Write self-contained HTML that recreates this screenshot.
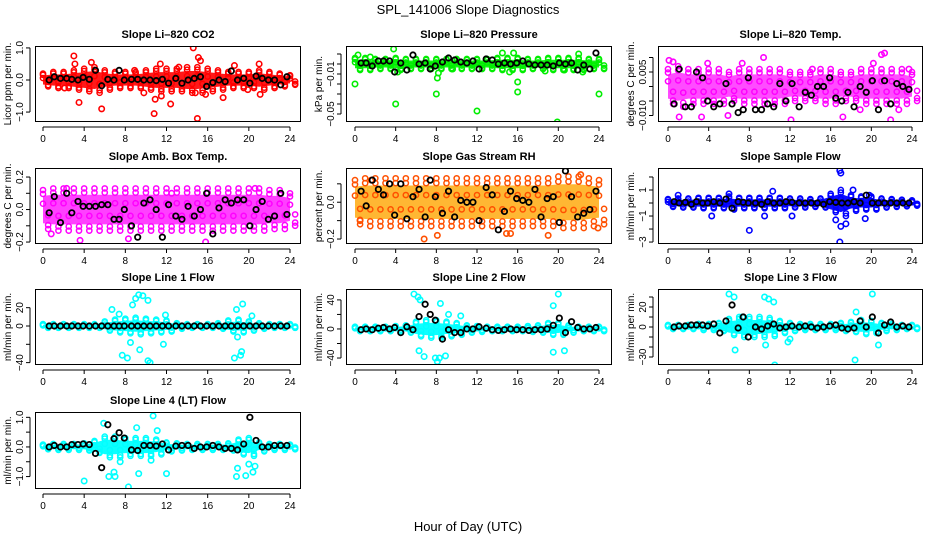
<!DOCTYPE html>
<html><head><meta charset="utf-8">
<style>
html,body{margin:0;padding:0;background:#fff;}
svg{display:block;font-family:"Liberation Sans",sans-serif;}
</style></head>
<body>
<svg id="chart" width="936" height="540" viewBox="0 0 936 540">
<text x="468" y="14" text-anchor="middle" font-size="13">SPL_141006  Slope Diagnostics</text>
<text x="468" y="531" text-anchor="middle" font-size="13">Hour of Day (UTC)</text>
</svg>
<script>
// shared hours for black (hourly mean) points
const blackHours = [0.6,1.1,1.7,2.3,2.8,3.4,3.9,4.5,5.1,5.7,6.3,6.9,7.4,7.9,8.6,9.2,9.8,10.4,11.0,11.6,12.2,12.9,13.5,14.1,14.7,15.3,15.9,16.5,17.1,17.7,18.3,18.9,19.5,20.1,20.7,21.3,21.9,22.5,23.1,23.7];
const bandHours = [0,1,2,3,4,5,6,7,8,9,10,11,12,13,14,15,16,17,18,19,20,21,22,23,24];
const xTicks = [0,4,8,12,16,20,24];

// Panel 1: CO2
const co2Band = [0.2,0.25,0.25,0.3,0.35,0.4,0.3,0.25,0.25,0.25,0.3,0.35,0.35,0.35,0.4,0.4,0.35,0.3,0.25,0.25,0.25,0.3,0.25,0.2,0.15];
const co2OutX = [3,3.1,3.5,5.7,4.7,10.8,10.9,11.4,11.5,12.4,14.6,14.8,15.1,15.3,15,17.5,18.6,21,21.1,8.9,9.8,13.2,15.8,2.1,19.9];
const co2OutY = [0.75,0.5,-0.7,-0.9,0.55,-1.05,-0.6,0.5,-0.5,-0.75,1.0,-0.4,0.7,0.6,-1.2,-0.55,0.45,0.5,-0.45,0.3,-0.4,0.4,-0.45,-0.25,-0.3];
const co2Black = [0.0,0.1,0.05,0.05,0.02,0.0,0.08,0.02,0.3,-0.18,0.02,0.0,0.3,0.0,0.02,0.02,0.0,0.0,-0.02,0.02,-0.1,0.05,-0.1,0.0,0.05,0.1,-0.2,-0.08,0.0,-0.05,0.28,0.0,0.05,-0.1,0.12,0.05,0.0,0.0,-0.15,0.1];
// Panel 2: pressure
const prBand = [0.006,0.006,0.005,0.005,0.006,0.005,0.005,0.005,0.005,0.005,0.005,0.005,0.005,0.005,0.006,0.006,0.006,0.005,0.005,0.006,0.006,0.006,0.006,0.005,0.005];
const prOutX = [0,0.3,4,4.2,8,8.1,8.2,12,14.5,15.6,16,16,15.2,19.9,22,22.4,24,3.8,20.6,18.7,1.5,9.6];
const prOutY = [-0.02,0.009,-0.04,-0.008,-0.03,-0.014,-0.009,-0.047,0.011,0.011,-0.028,-0.018,-0.008,-0.058,0.01,-0.008,-0.03,0.015,-0.006,-0.007,0.007,-0.005];
const prBlack = [0.001,0.001,-0.002,0.003,0.003,0.003,-0.008,0.001,-0.006,0.009,0.0,0.001,-0.005,-0.002,0.002,0.006,0.004,0.002,0.001,0.003,-0.005,0.005,0.004,0.0,0.001,0.0,0.001,0.003,0.0,-0.001,-0.001,-0.001,-0.002,0.001,0.0,0.001,-0.006,-0.001,-0.005,0.011];
// Panel 3: Li-820 temp
const ltBand = [0.006,0.007,0.006,0.006,0.006,0.006,0.005,0.006,0.006,0.006,0.006,0.006,0.005,0.005,0.005,0.006,0.006,0.005,0.005,0.006,0.006,0.006,0.006,0.006,0.005];
const ltOutX = [0.5,1.1,3.3,9.4,5.9,12.1,17.2,21,21.3,21.9,22.7,18.9,20.2,23.7,3.9,7.3,0.1,14.2];
const ltOutY = [0.0085,-0.0105,-0.0105,0.01,-0.01,-0.0115,-0.0105,0.011,0.0115,-0.0115,-0.008,-0.008,0.008,0.006,0.008,0.008,0.009,0.006];
const ltBlack = [-0.006,0.006,-0.007,-0.007,0.005,0.003,-0.005,-0.007,-0.006,0.001,-0.006,-0.009,-0.008,0.003,-0.008,-0.008,-0.006,-0.007,0.001,-0.005,0.001,-0.007,-0.002,-0.003,0.0,0.0,0.003,-0.004,-0.005,-0.002,-0.007,0.0,-0.002,0.002,-0.008,0.002,-0.006,0.001,0.0,-0.001];
// Panel 4: amb box temp
const abBand = [0.12,0.13,0.13,0.13,0.13,0.13,0.13,0.13,0.13,0.13,0.13,0.13,0.13,0.13,0.13,0.13,0.13,0.13,0.13,0.13,0.13,0.13,0.12,0.12,0.1];
const abOutX = [7,15.8,8.3,3.6,0.8,20.6,2.3,12.5];
const abOutY = [0.27,-0.2,-0.18,-0.19,-0.15,0.13,0.13,0.1];
const abBlack = [-0.02,0.08,-0.08,0.1,-0.02,0.05,0.02,0.02,0.02,0.03,0.03,-0.06,-0.06,0.0,-0.1,-0.17,0.04,0.06,0.0,-0.17,0.03,-0.04,-0.06,0.02,-0.04,0.0,0.1,-0.15,0.01,0.06,0.04,0.06,0.06,-0.1,0.0,0.05,-0.06,-0.04,0.1,-0.03];
// Panel 5: gas stream RH
const rhBand = [0.12,0.13,0.13,0.13,0.13,0.13,0.13,0.13,0.13,0.13,0.13,0.13,0.13,0.13,0.13,0.13,0.13,0.13,0.13,0.13,0.14,0.14,0.14,0.13,0.12];
const rhOutX = [5.1,6.8,8.1,19,21.8,0.5,23.9,14.9,15.3,1.6,22.2];
const rhOutY = [-0.24,-0.2,-0.18,-0.18,0.2,-0.1,-0.14,-0.17,-0.17,0.12,0.15];
const rhBlack = [0.06,-0.02,0.12,0.07,0.04,0.1,-0.07,0.1,-0.09,0.03,0.07,-0.08,0.12,0.03,-0.06,0.06,-0.08,0.01,0.0,0.0,-0.1,0.08,0.04,-0.15,-0.05,0.06,0.02,0.01,0.0,0.07,-0.08,0.02,0.03,-0.11,0.17,0.03,-0.08,-0.06,-0.04,0.06];
// Panel 6: sample flow
const sfBand = [0.3,0.35,0.35,0.4,0.4,0.4,0.5,0.4,0.4,0.4,0.4,0.4,0.35,0.35,0.3,0.35,0.7,1.0,0.6,0.5,0.5,0.35,0.3,0.25,0.2];
const sfOutX = [16.9,17,16.9,17,8,10.3,16.5,19.4,19.8,4.3,9.5,12.2,6,1,17.5,18.2];
const sfOutY = [2.5,2.3,-3,-1.8,-2.1,0.9,-1.3,-1.2,0.6,-1,-1,-1,0.7,0.6,-1.6,1.0];
const sfBlack = [0.1,0.0,0.05,-0.1,0.1,0.0,0.0,0.1,0.0,0.3,-0.4,0.1,0.05,0.0,0.0,-0.1,0.1,0.0,0.0,0.1,0.05,0.0,0.0,0.0,0.0,-0.1,0.1,0.05,0.0,0.0,0.1,0.0,0.6,0.0,0.0,0.0,0.0,0.0,0.0,0.0];
// Panel 7: line 1 flow
const l1Band = [2,2,2,2,2,2,5,7,8,9,8,7,6,3,2,2,2,3,6,7,5,3,2,2,2];
const l1OutX = [8.7,9,9.3,9.7,10.2,7.4,6.7,8.2,7.7,10.4,10.2,9.4,8.5,11.7,19.2,19.3,19.4,18.8,18.6,18.9,20.3,11.9];
const l1OutY = [23,30,34,33,28,13,18,-35,-32,-40,-38,-26,-18,-20,-32,-28,24,18,-35,-12,11,12];
const l1Black = [0,0,0,0,0,0,0,0,0,0,0,0,0,0,0,0,0,0,0,0,0,0,0,0,0,0,0,0,0,0,0,0,0,0,0,0,0,0,0,0];
// Panel 8: line 2 flow
const l2Band = [3,3,3,3,4,5,10,12,12,10,8,5,4,3,3,3,3,4,5,8,8,5,3,3,3];
const l2OutX = [5.8,6.2,6.4,8.4,6.3,6.8,7.9,8.1,8.3,8.9,19.5,20,19.5,20.6,9.2,10.4];
const l2OutY = [48,44,40,35,-30,-38,-40,-45,-40,-37,32,48,-32,-30,20,18];
const l2Black = [-1,0,-1,1,2,0,2,-5,3,-1,17,34,20,12,-14,-1,-5,-5,0,0,3,1,-1,-2,-1,0,-1,-1,-2,-1,-1,0,5,15,-5,10,2,0,0,2];
// Panel 9: line 3 flow
const l3Band = [2,2,2,3,3,4,8,10,10,10,9,6,4,3,3,3,3,4,5,7,6,4,3,2,2];
const l3OutX = [6,6.5,9.5,9.9,10.4,10.5,6.6,9.6,11.8,12,18.4,20.1,20.7,18.5,7.3];
const l3OutY = [33,30,30,28,25,-38,-23,-18,-15,-12,-33,33,-18,15,10];
const l3Black = [0,1,1,2,2,2,1,3,-6,6,22,-1,10,-10,0,-2,1,3,-1,0,1,0,1,0,-1,0,1,2,-1,-2,-1,6,0,10,-6,2,5,0,1,0];
// Panel 10: line 4 flow
const l4Band = [0.08,0.1,0.1,0.1,0.12,0.2,0.35,0.35,0.3,0.3,0.3,0.25,0.15,0.12,0.1,0.1,0.1,0.1,0.12,0.25,0.3,0.15,0.1,0.1,0.08];
const l4OutX = [10.7,5.9,9.1,11.1,4,8.3,6.4,6.9,7,9.3,12,18.8,18.9,19.7,20,20.4,20.6,10.5,7.5];
const l4OutY = [1.05,0.8,0.65,0.55,-1.15,-1.35,-1,-0.85,-1,-0.9,-0.9,-1,-0.72,-0.97,-0.58,-0.85,-0.65,-0.45,-0.5];
const l4Black = [0.0,0.05,0.0,0.0,0.08,0.08,0.1,0.08,-0.22,-0.7,0.75,0.28,0.48,0.3,-0.1,-0.12,0.05,0.05,0.03,0.1,-0.1,0.03,0.05,0.05,-0.05,0.0,0.0,0.05,0.0,-0.05,-0.05,-0.1,0.1,1.0,0.22,0.0,0.0,0.05,0.05,0.05];

const NS = "http://www.w3.org/2000/svg";
const svg = document.getElementById('chart');
function mk(tag, attrs, parent){ const e=document.createElementNS(NS,tag); for(const k in attrs) e.setAttribute(k,attrs[k]); (parent||svg).appendChild(e); return e; }

const cols = [{l:35,r:301,x0:43,x24:290},{l:346,r:612,x0:355,x24:599},{l:658,r:923,x0:668,x24:912}];
const rows = [{t:46,b:122},{t:168,b:244},{t:289,b:365},{t:412,b:489}];

const panels = [
 {name:'co2',title:'Slope Li-820 CO2',ylab:'Licor ppm per min.',c:0,r:0,ymax:1.06,ymin:-1.31,yt:[1.0,0.0,-1.0],yl:['1.0','0.0','-1.0'],col:'#ff0000',mid:0,band:co2Band,ox:co2OutX,oy:co2OutY,bk:co2Black,op:0.9},
 {name:'pressure',title:'Slope Li-820 Pressure',ylab:'kPa per min.',c:1,r:0,ymax:0.018,ymin:-0.058,yt:[0.01,0.0,-0.01,-0.02,-0.03,-0.04,-0.05],yl:['','','-0.01','','','','-0.05'],col:'#00ee00',mid:0,band:prBand,ox:prOutX,oy:prOutY,bk:prBlack,op:0.9},
 {name:'li-temp',title:'Slope Li-820 Temp.',ylab:'degrees C per min.',c:2,r:0,ymax:0.01397,ymin:-0.01224,yt:[0.01,0.005,0.0,-0.005,-0.01],yl:['','0.005','','','-0.010'],col:'#ff00ff',mid:0,band:ltBand,ox:ltOutX,oy:ltOutY,bk:ltBlack,op:0.7},
 {name:'amb-box-temp',title:'Slope Amb. Box Temp.',ylab:'degrees C per min.',c:0,r:1,ymax:0.2556,ymin:-0.212,yt:[0.2,0.1,0.0,-0.1,-0.2],yl:['0.2','','0.0','','-0.2'],col:'#ff00ff',mid:0,band:abBand,ox:abOutX,oy:abOutY,bk:abBlack,op:0.75},
 {name:'gas-rh',title:'Slope Gas Stream RH',ylab:'percent per min.',c:1,r:1,ymax:0.186,ymin:-0.227,yt:[0.1,0.0,-0.1,-0.2],yl:['','0.0','','-0.2'],col:'#ffa500',mid:0,band:rhBand,ox:rhOutX,oy:rhOutY,bk:rhBlack,edge:'#ff5000',op:0.8},
 {name:'sample-flow',title:'Slope Sample Flow',ylab:'ml/min per min.',c:2,r:1,ymax:2.69,ymin:-3.15,yt:[2,1,0,-1,-2,-3],yl:['','1','','-1','','-3'],col:'#0000ff',mid:0,band:sfBand,ox:sfOutX,oy:sfOutY,bk:sfBlack,op:0.95},
 {name:'line1-flow',title:'Slope Line 1 Flow',ylab:'ml/min per min.',c:0,r:2,ymax:40.4,ymin:-42.6,yt:[20,0,-20,-40],yl:['20','0','','-40'],col:'#00ffff',mid:0,band:l1Band,ox:l1OutX,oy:l1OutY,bk:l1Black,op:0.95},
 {name:'line2-flow',title:'Slope Line 2 Flow',ylab:'ml/min per min.',c:1,r:2,ymax:55,ymin:-49.6,yt:[40,20,0,-20,-40],yl:['40','','0','','-40'],col:'#00ffff',mid:0,band:l2Band,ox:l2OutX,oy:l2OutY,bk:l2Black,op:0.95},
 {name:'line3-flow',title:'Slope Line 3 Flow',ylab:'ml/min per min.',c:2,r:2,ymax:38,ymin:-38,yt:[30,20,10,0,-10,-20,-30],yl:['','20','','0','','','-30'],col:'#00ffff',mid:0,band:l3Band,ox:l3OutX,oy:l3OutY,bk:l3Black,op:0.95},
 {name:'line4-flow',title:'Slope Line 4 (LT) Flow',ylab:'ml/min per min.',c:0,r:3,ymax:1.18,ymin:-1.42,yt:[1.0,0.5,0.0,-0.5,-1.0],yl:['1.0','','0.0','','-1.0'],col:'#00ffff',mid:0,band:l4Band,ox:l4OutX,oy:l4OutY,bk:l4Black,op:0.95}
];

panels.forEach(p=>{
  const C=cols[p.c], R=rows[p.r];
  const g=mk('g',{});
  
  
  const xs=h=>C.x0+(h/24)*(C.x24-C.x0);
  const ys=v=>R.t+(p.ymax-v)/(p.ymax-p.ymin)*(R.b-R.t);
  const clip='clip-'+p.name;
  const cp=mk('clipPath',{id:clip},g); mk('rect',{x:C.l,y:R.t,width:C.r-C.l,height:R.b-R.t},cp);
  const pg=mk('g',{'clip-path':'url(#'+clip+')'},g);
  let top=[],bot=[];
  bandHours.forEach((h,i)=>{top.push(xs(h)+','+ys(p.mid+0.7*p.band[i])); bot.unshift(xs(h)+','+ys(p.mid-0.7*p.band[i]));});
  const band=mk('polygon',{points:top.concat(bot).join(' '),fill:p.col,'fill-opacity':p.op,stroke:'none'},pg);
  
  
  bandHours.forEach((h,i)=>{
    [1,-1,0.8,-0.8,0.3,-0.3].forEach(f=>{
      const c=mk('circle',{cx:xs(h+(f>0?0:0.5)),cy:ys(p.mid+f*p.band[i]),r:2.6,fill:'none',stroke:p.edge||p.col,'stroke-width':1.5},pg);
      
      
    });
  });
  p.ox.forEach((h,i)=>{
    const c=mk('circle',{cx:xs(h),cy:ys(p.oy[i]),r:2.7,fill:'none',stroke:p.edge||p.col,'stroke-width':1.6},pg);
    
    
  });
  blackHours.forEach((h,i)=>{
    const c=mk('circle',{cx:xs(h),cy:ys(p.bk[i]),r:2.7,fill:'none',stroke:'#000','stroke-width':1.8},pg);
    
    
  });
  mk('rect',{x:C.l+0.5,y:R.t+0.5,width:C.r-C.l-1,height:R.b-R.t-1,fill:'none',stroke:'#000','stroke-width':1},g);
  const xa=mk('g',{},g);
  
  
  const ay=R.b+5;
  mk('line',{x1:xs(0),x2:xs(24),y1:ay,y2:ay,stroke:'#000'},xa);
  xTicks.forEach(t=>{
    mk('line',{x1:xs(t),x2:xs(t),y1:ay,y2:ay+4,stroke:'#000'},xa);
    const tx=mk('text',{x:xs(t),y:ay+15,'text-anchor':'middle','font-size':10},xa); tx.textContent=t;
  });
  const ya=mk('g',{},g);
  
  
  const axX=C.l-5;
  mk('line',{x1:axX,x2:axX,y1:ys(p.yt[0]),y2:ys(p.yt[p.yt.length-1]),stroke:'#000'},ya);
  p.yt.forEach((t,i)=>{
    mk('line',{x1:axX-4,x2:axX,y1:ys(t),y2:ys(t),stroke:'#000'},ya);
    if(p.yl[i]){const tx=mk('text',{x:axX-7,y:ys(t),'text-anchor':'middle','font-size':10,transform:`rotate(-90 ${axX-7} ${ys(t)})`},ya); tx.textContent=p.yl[i].replace('-','\u2212');}
  });
  const yl=mk('text',{x:C.l-24,y:(R.t+R.b)/2,'text-anchor':'middle','font-size':10,transform:`rotate(-90 ${C.l-24} ${(R.t+R.b)/2})`},g);
  yl.textContent=p.ylab;
  
  
  const tt=mk('text',{x:(C.l+C.r)/2,y:R.t-8,'text-anchor':'middle','font-size':11,'font-weight':'bold'},g);
  tt.textContent=p.title.replace('-','\u2013');
  
  
});
</script>
</body></html>
